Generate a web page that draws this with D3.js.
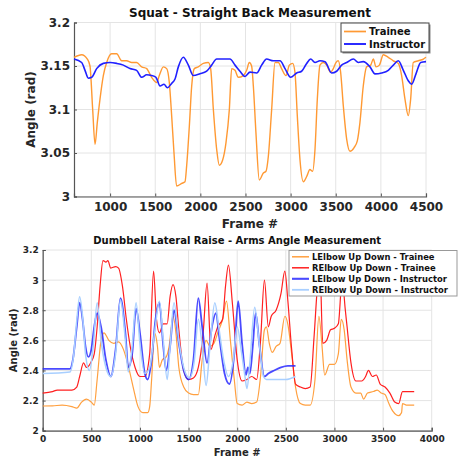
<!DOCTYPE html>
<html>
<head>
<meta charset="utf-8">
<script src="https://cdn.jsdelivr.net/npm/d3@7"></script>
<style>
body { margin: 0; background: #fff; }
svg text { font-family: "DejaVu Sans", sans-serif; font-weight: bold; }
</style>
</head>
<body>
<div id="chart"></div>
<script>
// ---- squat chart data ----
var squatTicksX = [1000, 1500, 2000, 2500, 3000, 3500, 4000, 4500];
var squatTicksY = [3, 3.05, 3.1, 3.15, 3.2];
var squatTraineeFrames = [600,685,748,777,807,833,858,888,925,962,1017,1073,1128,1183,1239,1294,1350,1405,1460,1516,1545,1590,1627,1656,1682,1708,1737,1793,1830,1848,1878,1904,1933,1977,2033,2088,2114,2144,2181,2210,2247,2284,2321,2347,2384,2420,2476,2513,2542,2568,2587,2616,2653,2698,2727,2753,2790,2827,2864,2900,2949,2986,3022,3048,3074,3104,3141,3178,3214,3244,3270,3296,3325,3362,3399,3443,3473,3502,3528,3554,3584,3621,3658,3702,3739,3768,3805,3842,3887,3916,3946,3983,4027,4082,4138,4193,4230,4267,4304,4330,4359,4415,4471,4500];
var squatTraineeAngles = [3.160,3.163,3.158,3.150,3.100,3.060,3.085,3.112,3.139,3.154,3.164,3.164,3.156,3.156,3.154,3.154,3.149,3.147,3.137,3.131,3.139,3.149,3.147,3.131,3.093,3.050,3.012,3.015,3.017,3.035,3.081,3.127,3.147,3.149,3.153,3.154,3.147,3.100,3.054,3.036,3.042,3.062,3.100,3.147,3.145,3.137,3.139,3.145,3.154,3.150,3.127,3.073,3.019,3.027,3.029,3.046,3.100,3.154,3.154,3.147,3.139,3.151,3.153,3.143,3.093,3.042,3.017,3.023,3.031,3.029,3.054,3.112,3.151,3.154,3.151,3.143,3.147,3.154,3.156,3.143,3.104,3.066,3.052,3.056,3.064,3.085,3.127,3.149,3.151,3.158,3.149,3.151,3.163,3.160,3.156,3.153,3.139,3.112,3.093,3.112,3.154,3.156,3.158,3.160];
var squatInstructorFrames = [600,685,722,759,796,851,925,999,1073,1147,1220,1294,1350,1405,1460,1508,1553,1597,1634,1682,1719,1756,1811,1867,1922,1996,2070,2125,2181,2254,2328,2384,2439,2494,2550,2624,2679,2734,2808,2882,2938,3000,3067,3122,3178,3222,3270,3325,3381,3454,3510,3565,3621,3695,3750,3805,3879,3935,4008,4082,4138,4193,4249,4304,4341,4389,4441,4500];
var squatInstructorAngles = [3.158,3.154,3.145,3.136,3.137,3.147,3.153,3.154,3.153,3.151,3.147,3.145,3.137,3.140,3.139,3.137,3.127,3.129,3.125,3.130,3.135,3.149,3.160,3.151,3.139,3.141,3.144,3.151,3.158,3.158,3.158,3.151,3.144,3.138,3.143,3.142,3.151,3.158,3.156,3.156,3.147,3.137,3.142,3.144,3.153,3.158,3.154,3.156,3.155,3.142,3.144,3.151,3.154,3.158,3.154,3.155,3.149,3.141,3.142,3.145,3.151,3.156,3.145,3.133,3.129,3.141,3.154,3.155];

// ---- lateral raise chart data ----
var raiseTicksX = [0, 500, 1000, 1500, 2000, 2500, 3000, 3500, 4000];
var raiseTicksY = [2, 2.2, 2.4, 2.6, 2.8, 3, 3.2];
var lTraineeFrames = [0,100,200,300,350,400,450,500,530,560,600,630,680,730,780,830,880,930,980,1030,1080,1100,1120,1150,1180,1200,1230,1270,1300,1340,1370,1400,1450,1500,1550,1600,1640,1680,1720,1760,1800,1850,1890,1930,1970,2000,2050,2100,2150,2200,2240,2280,2300,2330,2360,2400,2440,2490,2520,2560,2600,2650,2700,2750,2800,2840,2870,2900,2950,3000,3040,3070,3100,3130,3170,3220,3270,3300,3340,3400,3440,3480,3520,3560,3600,3660,3690,3700,3740,3780,3820];
var lTraineeAngles = [2.164,2.165,2.17,2.16,2.15,2.19,2.21,2.19,2.17,2.34,2.60,2.65,2.60,2.58,2.59,2.54,2.43,2.29,2.16,2.12,2.12,2.16,2.34,2.65,2.56,2.42,2.47,2.49,2.56,2.76,2.65,2.42,2.29,2.25,2.24,2.24,2.47,2.60,2.56,2.58,2.65,2.74,2.86,2.60,2.34,2.18,2.17,2.19,2.18,2.19,2.36,2.67,2.69,2.58,2.52,2.56,2.58,2.76,2.71,2.51,2.29,2.18,2.17,2.17,2.34,2.76,2.58,2.37,2.44,2.44,2.51,2.74,2.67,2.47,2.29,2.25,2.25,2.21,2.25,2.26,2.27,2.25,2.24,2.18,2.13,2.10,2.12,2.18,2.17,2.17,2.17];
var rTraineeFrames = [0,100,150,300,350,380,420,450,500,530,560,590,620,650,670,700,750,780,820,860,900,950,1000,1050,1100,1140,1170,1200,1240,1280,1310,1340,1370,1400,1450,1500,1550,1600,1650,1690,1730,1770,1800,1850,1880,1910,1950,2000,2050,2100,2150,2200,2240,2280,2320,2350,2400,2450,2490,2520,2560,2600,2650,2700,2750,2790,2830,2850,2880,2920,2960,3000,3040,3070,3085,3100,3130,3170,3220,3280,3320,3350,3390,3430,3470,3520,3570,3620,3660,3700,3750,3800,3820];
var rTraineeAngles = [2.25,2.26,2.27,2.27,2.29,2.36,2.45,2.42,2.46,2.51,2.69,2.96,3.13,3.12,3.13,3.08,3.09,3.08,2.96,2.74,2.56,2.42,2.36,2.36,2.51,3.06,2.74,2.65,2.71,2.71,2.89,2.97,2.89,2.67,2.40,2.34,2.35,2.42,2.65,2.98,2.54,2.63,2.69,2.74,2.96,3.10,2.85,2.47,2.33,2.34,2.36,2.34,2.60,3.00,2.69,2.76,2.80,2.91,3.06,2.87,2.54,2.31,2.29,2.28,2.29,2.62,3.00,3.10,2.58,2.60,2.67,2.68,2.71,2.96,3.05,2.89,2.69,2.45,2.33,2.33,2.36,2.40,2.36,2.37,2.31,2.29,2.25,2.19,2.18,2.26,2.26,2.26,2.26];
var lInstructorFrames = [0,280,310,350,380,410,440,470,500,530,560,600,650,700,750,800,850,880,920,960,1000,1050,1080,1120,1160,1200,1240,1270,1310,1350,1400,1450,1500,1550,1600,1640,1690,1740,1780,1820,1870,1920,1970,2010,2050,2090,2110,2130,2160,2190,2230,2280,2320,2380,2450,2520,2600];
var lInstructorAngles = [2.41,2.41,2.47,2.69,2.85,2.74,2.56,2.49,2.54,2.69,2.78,2.69,2.47,2.36,2.54,2.88,2.65,2.42,2.51,2.81,2.65,2.38,2.34,2.47,2.74,2.85,2.56,2.40,2.56,2.80,2.58,2.40,2.34,2.47,2.88,2.69,2.45,2.69,2.78,2.60,2.38,2.31,2.51,2.86,2.58,2.37,2.42,2.38,2.56,2.78,2.56,2.36,2.38,2.40,2.42,2.43,2.43];
var rInstructorFrames = [0,280,320,350,380,410,440,480,520,560,600,650,700,750,800,850,880,920,960,1000,1050,1100,1150,1200,1240,1280,1310,1350,1400,1450,1510,1560,1600,1640,1680,1720,1770,1810,1860,1910,1960,2000,2040,2080,2100,2130,2180,2220,2270,2300,2400,2500,2600];
var rInstructorAngles = [2.38,2.39,2.51,2.73,2.89,2.76,2.51,2.40,2.56,2.85,2.60,2.42,2.36,2.51,2.87,2.60,2.39,2.56,2.85,2.58,2.38,2.42,2.65,2.86,2.60,2.34,2.56,2.85,2.60,2.42,2.35,2.47,2.74,2.56,2.30,2.56,2.85,2.69,2.47,2.36,2.47,2.69,2.54,2.36,2.28,2.45,2.82,2.62,2.36,2.34,2.34,2.34,2.36];

var svg = d3.select("#chart").append("svg")
	.attr("width", 458)
	.attr("height", 461);

function zip(fs, vs) {
	return fs.map(function(f, i) { return [f, vs[i]]; });
}

// draws one matlab-ish panel
function panel(o) {
	var x = d3.scaleLinear().domain(o.xDomain).range([o.left, o.right]);
	var y = d3.scaleLinear().domain(o.yDomain).range([o.bottom, o.top]);
	var g = svg.append("g");

	// grid
	g.selectAll(".gx").data(o.xTicks).enter().append("line")
		.attr("x1", function(d) { return x(d); }).attr("x2", function(d) { return x(d); })
		.attr("y1", o.top).attr("y2", o.bottom)
		.attr("stroke", "#e4e4e4").attr("stroke-width", 1);
	g.selectAll(".gy").data(o.yTicks).enter().append("line")
		.attr("x1", o.left).attr("x2", o.right)
		.attr("y1", function(d) { return y(d); }).attr("y2", function(d) { return y(d); })
		.attr("stroke", "#e4e4e4").attr("stroke-width", 1);

	// axes (ticks pointing inward)
	var fmt = function(d) { return String(+d.toFixed(2)); };
	var ax = g.append("g").attr("transform", "translate(0," + o.bottom + ")")
		.call(d3.axisTop(x).tickValues(o.xTicks).tickSize(3).tickFormat(fmt));
	ax.selectAll("text").attr("y", o.xLabelDy).attr("dy", "0.71em");
	var ay = g.append("g").attr("transform", "translate(" + o.left + ",0)")
		.call(d3.axisRight(y).tickValues(o.yTicks).tickSize(3).tickFormat(fmt));
	ay.selectAll("text").attr("x", -4).attr("text-anchor", "end");
	[ax, ay].forEach(function(a) {
		a.select(".domain").attr("stroke", "#555").attr("stroke-width", 1.2);
		a.selectAll(".tick line").attr("stroke", "#555");
		a.selectAll("text").attr("fill", "#262626").style("font-size", o.tickSize + "px")
			.style("font-family", "DejaVu Sans").style("font-weight", "bold");
	});

	// series
	var line = d3.line().curve(d3.curveMonotoneX)
		.x(function(d) { return x(d[0]); }).y(function(d) { return y(d[1]); });
	o.series.forEach(function(s) {
		g.append("path").datum(s.data)
			.attr("d", line)
			.attr("fill", "none")
			.attr("stroke", s.color)
			.attr("stroke-width", s.width)
			.attr("stroke-opacity", s.opacity || 1)
			.attr("stroke-linejoin", "round");
	});

	// titles
	svg.append("text").attr("x", (o.left + o.right) / 2).attr("y", o.titleY)
		.attr("text-anchor", "middle").style("font-size", o.titleSize + "px").attr("fill", "#111")
		.text(o.title);
	svg.append("text").attr("x", (o.left + o.right) / 2).attr("y", o.xTitleY)
		.attr("text-anchor", "middle").style("font-size", o.labelSize + "px").attr("fill", "#262626")
		.text("Frame #");
	svg.append("text")
		.attr("transform", "translate(" + o.yTitleX + "," + (o.top + o.bottom) / 2 + ") rotate(-90)")
		.attr("text-anchor", "middle").style("font-size", o.labelSize + "px").attr("fill", "#262626")
		.text("Angle (rad)");

	// legend
	var L = o.legend;
	if (L.shadow) {
		svg.append("rect").attr("x", L.x + 1.5).attr("y", L.y + 1.5).attr("width", L.w).attr("height", L.h)
			.attr("fill", "#888");
	}
	svg.append("rect").attr("x", L.x).attr("y", L.y).attr("width", L.w).attr("height", L.h)
		.attr("fill", "#fff").attr("stroke", L.stroke).attr("stroke-width", 1);
	o.series.forEach(function(s, i) {
		var yy = L.y + L.pad + i * L.step;
		svg.append("line").attr("x1", L.x + 3).attr("x2", L.x + 3 + L.lineLen)
			.attr("y1", yy).attr("y2", yy)
			.attr("stroke", s.color).attr("stroke-width", s.width + 0.3).attr("stroke-opacity", s.opacity || 1);
		svg.append("text").attr("x", L.x + 6 + L.lineLen).attr("y", yy).attr("dy", "0.35em")
			.style("font-size", L.size + "px").attr("fill", "#111").text(s.name);
	});
}

panel({
	xDomain: [600, 4500], yDomain: [3, 3.2],
	left: 74, right: 426, top: 22.5, bottom: 196.5,
	xTicks: squatTicksX, yTicks: squatTicksY,
	xLabelDy: 6, tickSize: 12,
	title: "Squat - Straight Back Measurement", titleY: 17, titleSize: 12,
	xTitleY: 228, yTitleX: 35, labelSize: 12,
	series: [
		{ name: "Trainee", data: zip(squatTraineeFrames, squatTraineeAngles), color: "#ff9933", width: 1.4 },
		{ name: "Instructor", data: zip(squatInstructorFrames, squatInstructorAngles), color: "#2020ff", width: 1.6 }
	],
	legend: { x: 341, y: 23, w: 88, h: 29, pad: 8.5, step: 12.5, lineLen: 22, size: 10, stroke: "#444", shadow: true }
});

panel({
	xDomain: [0, 4000], yDomain: [2, 3.2],
	left: 42.7, right: 431.7, top: 250, bottom: 430.7,
	xTicks: raiseTicksX, yTicks: raiseTicksY,
	xLabelDy: 5, tickSize: 9,
	title: "Dumbbell Lateral Raise - Arms Angle Measurement", titleY: 244, titleSize: 10,
	xTitleY: 456, yTitleX: 17, labelSize: 10,
	series: [
		{ name: "LElbow Up Down - Trainee", data: zip(lTraineeFrames, lTraineeAngles), color: "#ffa040", width: 1.2 },
		{ name: "RElbow Up Down - Trainee", data: zip(rTraineeFrames, rTraineeAngles), color: "#ff2020", width: 1.2 },
		{ name: "LElbow Up Down - Instructor", data: zip(lInstructorFrames, lInstructorAngles), color: "#2a2aff", width: 1.8, opacity: 0.85 },
		{ name: "RElbow Up Down - Instructor", data: zip(rInstructorFrames, rInstructorAngles), color: "#a8cfff", width: 1.5 }
	],
	legend: { x: 289, y: 250.5, w: 168, h: 45.5, pad: 6.3, step: 11, lineLen: 17, size: 8.4, stroke: "#999", shadow: false }
});
</script>
</body>
</html>
